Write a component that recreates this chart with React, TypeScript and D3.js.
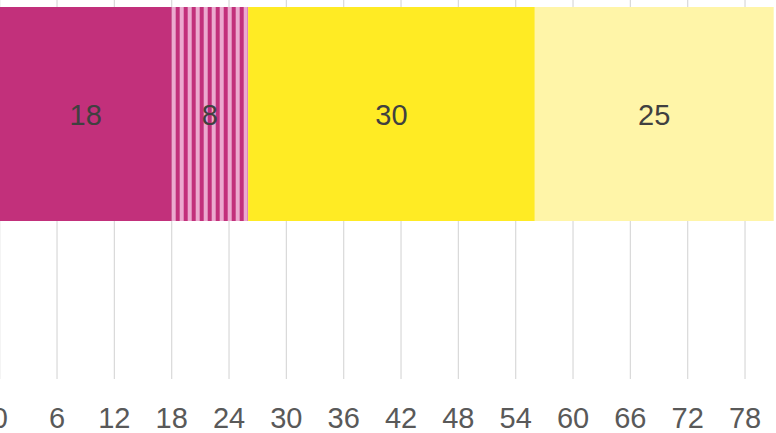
import React from "react";
import * as d3 from "d3";

const segments = ["A", "B", "C", "D"];
const values = [18, 8, 30, 25];
const colors = ["#C2307B", "pattern", "#FFEB24", "#FFF5A8"];
const tickValues = [0, 6, 12, 18, 24, 30, 36, 42, 48, 54, 60, 66, 72, 78];

const W = 776;
const H = 433;

export default function App() {
  const x = d3.scaleLinear().domain([0, 81]).range([-0.3, 773.7]);
  const barTop = 7;
  const barBottom = 221;
  const gridBottom = 379;
  let acc = 0;
  const stacks = values.map((v, i) => {
    const s = { key: segments[i], x0: acc, x1: acc + v, v, color: colors[i] };
    acc += v;
    return s;
  });
  const patStart = x(stacks[1].x0);
  return (
    <svg
      width={W}
      height={H}
      style={{ position: "fixed", left: 0, top: 0, background: "#fff" }}
      fontFamily="'Liberation Sans', Arial, sans-serif"
    >
      <defs>
        <pattern
          id="stripes"
          patternUnits="userSpaceOnUse"
          x={patStart}
          y={0}
          width={8}
          height={8}
        >
          <rect x={0} y={0} width={8} height={8} fill="#C2307B" />
          <rect x={0} y={0} width={4} height={8} fill="#ECA9CF" />
        </pattern>
      </defs>
      {tickValues.map((t) => (
        <line
          key={"g" + t}
          x1={x(t)}
          x2={x(t)}
          y1={0}
          y2={gridBottom}
          stroke="#D9D9D9"
          strokeWidth={1.2}
        />
      ))}
      {stacks.map((s) => (
        <rect
          key={s.key}
          x={x(s.x0)}
          y={barTop}
          width={x(s.x1) - x(s.x0)}
          height={barBottom - barTop}
          fill={s.color === "pattern" ? "url(#stripes)" : s.color}
        />
      ))}
      {stacks.map((s) => (
        <text
          key={"l" + s.key}
          x={(x(s.x0) + x(s.x1)) / 2}
          y={(barTop + barBottom) / 2}
          dy="0.38em"
          textAnchor="middle"
          fontSize={29}
          fill="#404040"
        >
          {s.v}
        </text>
      ))}
      {tickValues.map((t) => (
        <text
          key={"t" + t}
          x={x(t)}
          y={428}
          textAnchor="middle"
          fontSize={29}
          fill="#595959"
        >
          {t}
        </text>
      ))}
    </svg>
  );
}
